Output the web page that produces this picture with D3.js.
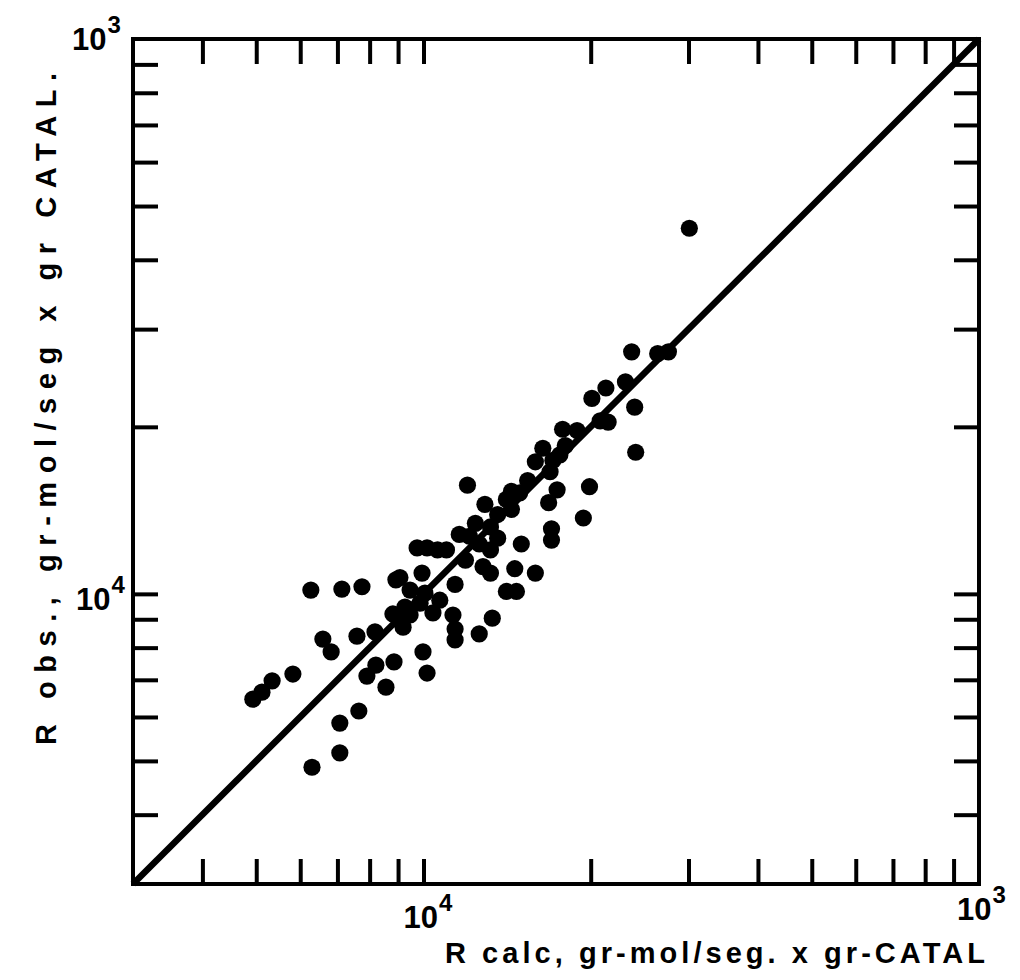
<!DOCTYPE html>
<html>
<head>
<meta charset="utf-8">
<script src="https://cdn.jsdelivr.net/npm/d3@7"></script>
<style>
  html, body { margin: 0; padding: 0; background: #fff; }
  svg { display: block; }
  text { font-family: "Liberation Sans", Arial, sans-serif; font-weight: bold; fill: #000; }
</style>
</head>
<body>
<svg id="chart" width="1020" height="980"></svg>
<script>
// Reaction rates in units of 1e-5 gr-mol/seg x gr catalyst
const rCalc = [
  4.93, 5.12, 5.34, 5.82, 6.27, 7.13, 7.75, 6.59, 6.82, 7.59,
  6.30, 7.07, 7.07, 7.65, 7.91, 8.21, 8.56, 8.85, 8.18, 8.92,
  9.19, 8.81, 9.98, 10.15, 9.07, 9.26, 9.46, 9.86, 10.06, 9.94,
  10.4, 11.3, 11.4, 11.4, 11.4, 9.74, 10.15, 10.6, 11.0, 11.6,
  12.0, 12.4, 12.9, 13.2, 13.2, 12.8, 13.2, 12.6, 13.3, 14.1,
  14.7, 14.6, 15.9, 15.0, 14.4, 14.1, 14.9, 16.8, 17.0, 17.0,
  16.9, 17.4, 17.6, 15.9, 16.4, 17.1, 17.8, 18.9, 19.9, 19.4,
  20.1, 20.8, 21.5, 21.3, 23.1, 24.0, 24.1, 23.7, 26.4, 27.6,
  30.1, 12.1, 12.6, 13.6, 13.6, 14.4, 15.4, 18.0, 10.7, 11.9,
  9.46
];
const rObs = [
  6.46, 6.65, 6.97, 7.17, 10.16, 10.2, 10.3, 8.29, 7.86, 8.39,
  4.87, 5.17, 5.85, 6.15, 7.11, 7.44, 6.79, 7.54, 8.54, 10.6,
  8.71, 9.20, 7.86, 7.20, 10.7, 9.47, 9.16, 9.62, 10.03, 10.9,
  9.24, 9.16, 10.4, 8.64, 8.26, 12.1, 12.1, 12.0, 12.0, 12.8,
  15.7, 13.4, 14.5, 13.2, 12.0, 11.2, 10.9, 8.47, 9.04, 10.1,
  10.1, 11.1, 10.9, 12.3, 15.3, 14.8, 15.2, 14.6, 13.1, 12.5,
  16.6, 15.4, 17.8, 17.3, 18.3, 17.4, 19.8, 19.7, 15.6, 13.7,
  22.5, 20.5, 20.4, 23.5, 24.1, 21.7, 18.0, 27.3, 27.1, 27.3,
  45.6, 12.7, 12.3, 12.6, 13.9, 14.2, 16.0, 18.5, 9.74, 11.5,
  10.16
];

const axisDomain = [3, 100];
const tickValues = [4, 5, 6, 7, 8, 9, 10, 20, 30, 40, 50, 60, 70, 80, 90];
const decadeLabels = [
  { value: 10, base: "10", exp: "4" },
  { value: 100, base: "10", exp: "3" }
];
const xTitle = "R calc, gr-mol/seg. x  gr-CATAL";
const yTitle = "R obs., gr-mol/seg x gr CATAL.";

const svg = d3.select("#chart");
svg.append("rect").attr("width", 1020).attr("height", 980).attr("fill", "#fff");

const plotLeft = 133, plotRight = 979, plotTop = 39, plotBottom = 884;
const x = d3.scaleLog().domain(axisDomain).range([plotLeft, plotRight]);
const y = d3.scaleLog().domain(axisDomain).range([plotBottom, plotTop]);
const tickLen = 25;

function styleAxis(g) {
  g.select(".domain").remove();
  g.selectAll(".tick line").attr("stroke", "#000").attr("stroke-width", 4);
  g.selectAll(".tick text").remove();
}

svg.append("g").attr("transform", `translate(0,${plotBottom})`)
  .call(d3.axisBottom(x).tickValues(tickValues).tickSize(-tickLen).tickFormat(""))
  .call(styleAxis);
svg.append("g").attr("transform", `translate(0,${plotTop})`)
  .call(d3.axisTop(x).tickValues(tickValues).tickSize(-tickLen).tickFormat(""))
  .call(styleAxis);
svg.append("g").attr("transform", `translate(${plotLeft},0)`)
  .call(d3.axisLeft(y).tickValues(tickValues).tickSize(-tickLen).tickFormat(""))
  .call(styleAxis);
svg.append("g").attr("transform", `translate(${plotRight},0)`)
  .call(d3.axisRight(y).tickValues(tickValues).tickSize(-tickLen).tickFormat(""))
  .call(styleAxis);

// frame
svg.append("rect")
  .attr("x", plotLeft).attr("y", plotTop)
  .attr("width", plotRight - plotLeft).attr("height", plotBottom - plotTop)
  .attr("fill", "none").attr("stroke", "#000").attr("stroke-width", 4);

// 1:1 line
svg.append("line")
  .attr("x1", x(axisDomain[0])).attr("y1", y(axisDomain[0]))
  .attr("x2", x(axisDomain[1])).attr("y2", y(axisDomain[1]))
  .attr("stroke", "#000").attr("stroke-width", 6.5);

// data points
const pts = rCalc.map((v, i) => ({ c: v, o: rObs[i] }));
svg.append("g").selectAll("circle").data(pts).join("circle")
  .attr("cx", d => x(d.c)).attr("cy", d => y(d.o))
  .attr("r", 8.6).attr("fill", "#000");

// decade labels
function powLabel(g, px, py, base, exp) {
  const t = g.append("text").attr("x", px).attr("y", py).attr("font-size", 31);
  t.append("tspan").text(base);
  t.append("tspan").attr("dy", -17).attr("dx", 1).attr("font-size", 24).text(exp);
}
const lab = svg.append("g");
// x axis
powLabel(lab, x(decadeLabels[0].value) - 20, 928, decadeLabels[0].base, decadeLabels[0].exp);
powLabel(lab, x(decadeLabels[1].value) - 22, 920, decadeLabels[1].base, decadeLabels[1].exp);
// y axis
powLabel(lab, 76, y(decadeLabels[0].value) + 16, decadeLabels[0].base, decadeLabels[0].exp);
powLabel(lab, 72, y(decadeLabels[1].value) + 11, decadeLabels[1].base, decadeLabels[1].exp);

// axis titles
svg.append("text")
  .attr("x", 445).attr("y", 963)
  .attr("font-size", 29)
  .attr("textLength", 540).attr("lengthAdjust", "spacing")
  .text(xTitle);

svg.append("text")
  .attr("transform", "translate(56,745) rotate(-90)")
  .attr("font-size", 29)
  .attr("textLength", 672).attr("lengthAdjust", "spacing")
  .text(yTitle);
</script>
</body>
</html>
